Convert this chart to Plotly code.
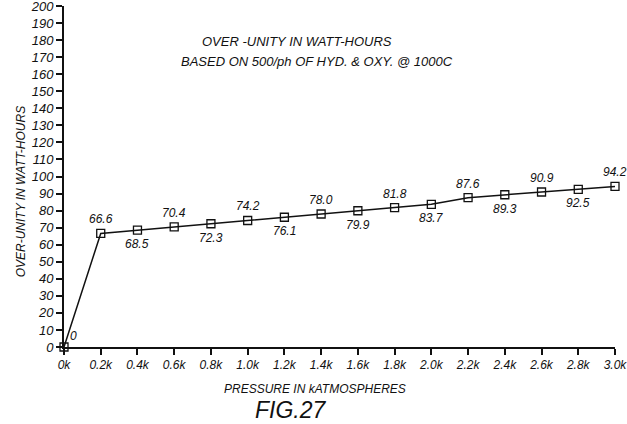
import plotly.graph_objects as go

pressure_k = [0.0, 0.2, 0.4, 0.6, 0.8, 1.0, 1.2, 1.4, 1.6, 1.8, 2.0, 2.2, 2.4, 2.6, 2.8, 3.0]
watt_hours = [0, 66.6, 68.5, 70.4, 72.3, 74.2, 76.1, 78.0, 79.9, 81.8, 83.7, 87.6, 89.3, 90.9, 92.5, 94.2]
point_labels = ["0", "66.6", "68.5", "70.4", "72.3", "74.2", "76.1", "78.0", "79.9", "81.8",
                "83.7", "87.6", "89.3", "90.9", "92.5", "94.2"]
x_tick_vals = pressure_k
x_tick_text = ["0k", "0.2k", "0.4k", "0.6k", "0.8k", "1.0k", "1.2k", "1.4k", "1.6k", "1.8k",
               "2.0k", "2.2k", "2.4k", "2.6k", "2.8k", "3.0k"]
y_tick_vals = list(range(0, 201, 10))

FONT = "Liberation Sans"
ink = "#111111"

def f(size):
    return dict(family=FONT, size=size, color=ink, style="italic")

fig = go.Figure()
fig.add_trace(go.Scatter(
    x=pressure_k, y=watt_hours, mode="lines+markers",
    line=dict(color=ink, width=1.5),
    marker=dict(symbol="square-open", size=8, color=ink, line=dict(width=1.3)),
    hoverinfo="skip", showlegend=False, cliponaxis=False,
))

# value labels alternating above / below
for i, (x, y, t) in enumerate(zip(pressure_k, watt_hours, point_labels)):
    if i == 0:
        fig.add_annotation(x=x, y=y, text=t, showarrow=False, xanchor="left", yanchor="bottom",
                           xshift=4, yshift=2, font=f(12))
        continue
    above = (i % 2 == 1)
    fig.add_annotation(x=x, y=y, text=t, showarrow=False,
                       yanchor="bottom" if above else "top",
                       yshift=5 if above else -5, font=f(12))

fig.add_annotation(xref="paper", yref="paper", x=0.423, y=0.924, text="OVER -UNITY IN WATT-HOURS",
                   showarrow=False, font=f(13))
fig.add_annotation(xref="paper", yref="paper", x=0.459, y=0.865,
                   text="BASED ON 500/ph OF HYD. &amp; OXY. @ 1000C",
                   showarrow=False, font=f(13))
fig.add_annotation(xref="paper", yref="paper", x=0.455, y=-0.123, yanchor="middle",
                   text="PRESSURE IN kATMOSPHERES", showarrow=False, font=f(12))
fig.add_annotation(xref="paper", yref="paper", x=0.412, y=-0.185, yanchor="middle",
                   text="FIG.27", showarrow=False, font=f(23))
fig.add_annotation(xref="paper", yref="paper", x=-0.094, y=0.457, textangle=-90,
                   text="OVER-UNITY IN WATT-HOURS", showarrow=False, font=f(12))

fig.update_layout(
    width=627, height=424,
    margin=dict(l=64, r=12, t=6, b=77, autoexpand=False),
    paper_bgcolor="white", plot_bgcolor="white",
    font=dict(family=FONT, color=ink, style="italic"),
    xaxis=dict(
        range=[0, 3.0], tickvals=x_tick_vals, ticktext=x_tick_text,
        showgrid=False, zeroline=False, showline=True, linecolor=ink, linewidth=2,
        ticks="outside", ticklen=6, tickcolor=ink, tickwidth=1.5,
        tickfont=f(12), automargin=False, ticklabeloverflow="allow",
    ),
    yaxis=dict(
        range=[0, 200], tickvals=y_tick_vals,
        showgrid=False, zeroline=False, showline=True, linecolor=ink, linewidth=2,
        ticks="outside", ticklen=6, tickcolor=ink, tickwidth=1.5,
        tickfont=f(13), automargin=False, ticklabeloverflow="allow",
    ),
)

fig.write_html("out.html", config={"displayModeBar": False},
               post_script="document.body.style.margin='0';")
